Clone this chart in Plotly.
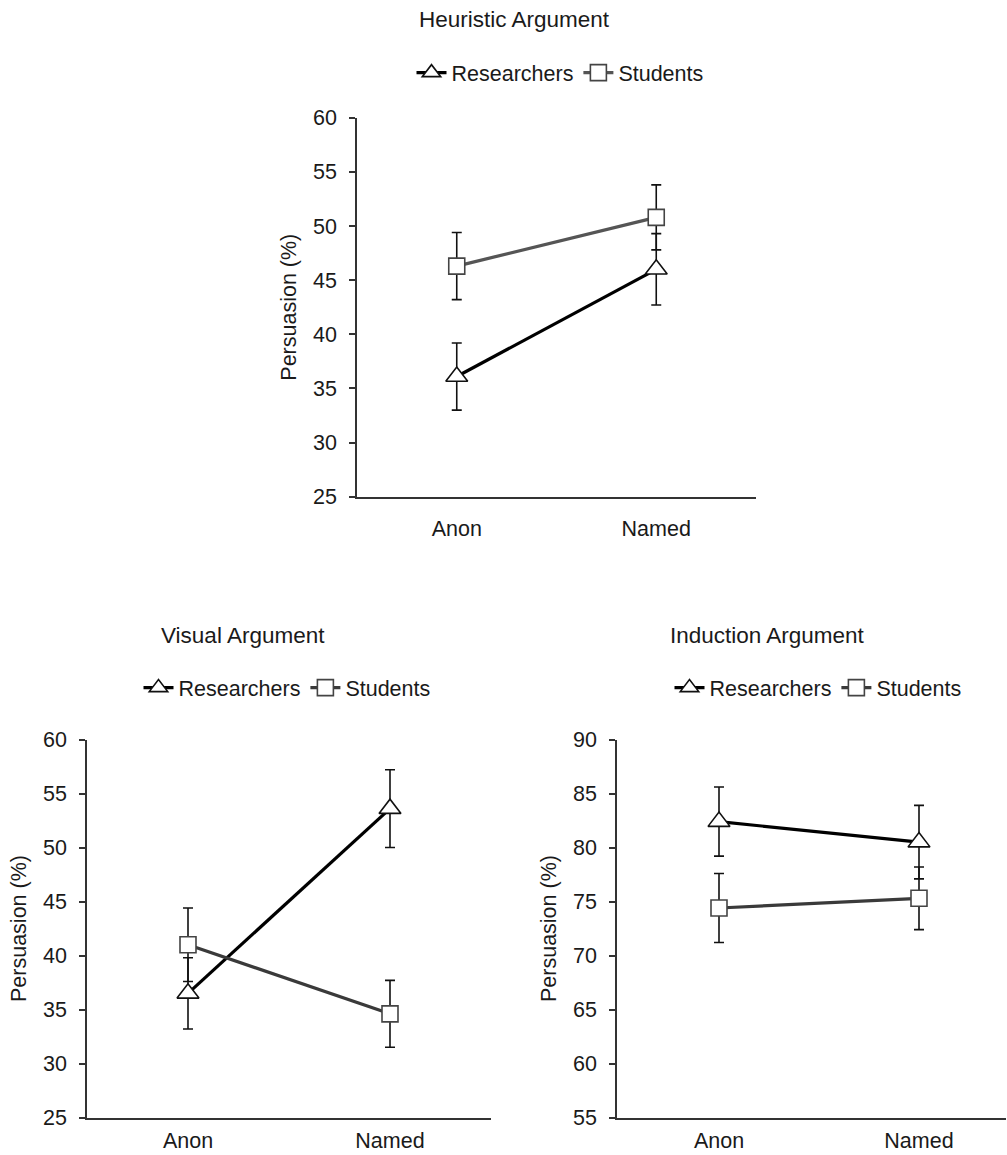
import plotly.graph_objects as go

W, H = 1007, 1155

categories = ["Anon", "Named"]
series_names = ["Researchers", "Students"]

heur_res = [36.1, 46.0]
heur_res_err = [3.1, 3.3]
heur_stu = [46.3, 50.8]
heur_stu_err = [3.1, 3.0]

vis_res = [36.5, 53.6]
vis_res_err = [3.3, 3.6]
vis_stu = [41.0, 34.6]
vis_stu_err = [3.4, 3.1]

ind_res = [82.4, 80.5]
ind_res_err = [3.2, 3.4]
ind_stu = [74.4, 75.3]
ind_stu_err = [3.2, 2.9]

titles = ["Heuristic Argument", "Visual Argument", "Induction Argument"]
y_ranges = [[25, 60], [25, 60], [55, 90]]
y_title = "Persuasion (%)"

FONT = "Liberation Sans, Arial, Helvetica, sans-serif"
TXT = "#1a1a1a"
FS = 21.5

fig = go.Figure()

panels = [
    dict(res=heur_res, rerr=heur_res_err, stu=heur_stu, serr=heur_stu_err,
         xa="x", ya="y", legend="legend", stu_color="#555555"),
    dict(res=vis_res, rerr=vis_res_err, stu=vis_stu, serr=vis_stu_err,
         xa="x2", ya="y2", legend="legend2", stu_color="#3a3a3a"),
    dict(res=ind_res, rerr=ind_res_err, stu=ind_stu, serr=ind_stu_err,
         xa="x3", ya="y3", legend="legend3", stu_color="#3a3a3a"),
]

for p in panels:
    fig.add_trace(go.Scatter(
        x=categories, y=p["res"], name=series_names[0], mode="lines+markers",
        xaxis=p["xa"], yaxis=p["ya"], legend=p["legend"],
        line=dict(color="#000000", width=3.2),
        marker=dict(symbol="triangle-up", size=19, color="white",
                    line=dict(color="#111111", width=1.6)),
        error_y=dict(type="data", array=p["rerr"], visible=True,
                     color="#111111", thickness=1.6, width=5),
    ))
    fig.add_trace(go.Scatter(
        x=categories, y=p["stu"], name=series_names[1], mode="lines+markers",
        xaxis=p["xa"], yaxis=p["ya"], legend=p["legend"],
        line=dict(color=p["stu_color"], width=3.2),
        marker=dict(symbol="square", size=16, color="white",
                    line=dict(color="#444444", width=1.6)),
        error_y=dict(type="data", array=p["serr"], visible=True,
                     color="#111111", thickness=1.6, width=5),
    ))

def px_x(a, b):
    return [a / W, b / W]

def px_y(top, bottom):
    return [1 - bottom / H, 1 - top / H]

domains = [
    (px_x(357, 756), px_y(109, 496), [-0.5, 1.5], 12),
    (px_x(87, 491), px_y(744, 1130), [-0.5, 1.5], 3),
    (px_x(617, 1006), px_y(744, 1130), [-0.51, 1.435], 3),
]

layout = dict(
    width=W, height=H,
    paper_bgcolor="white", plot_bgcolor="white",
    margin=dict(l=0, r=0, t=0, b=0),
    font=dict(family=FONT, size=FS, color=TXT),
    showlegend=True,
)

for i, (xd, yd, xr, stand) in enumerate(domains):
    sfx = "" if i == 0 else str(i + 1)
    layout["xaxis" + sfx] = dict(
        domain=xd, anchor="y" + sfx, range=xr, type="category",
        showline=True, linecolor="#333333", linewidth=1.6,
        showgrid=False, zeroline=False, ticks="",
        tickfont=dict(family=FONT, size=FS, color=TXT),
        ticklabelstandoff=stand, fixedrange=True,
    )
    layout["yaxis" + sfx] = dict(
        domain=yd, anchor="x" + sfx, range=y_ranges[i],
        tickmode="linear", tick0=y_ranges[i][0], dtick=5,
        showline=True, linecolor="#333333", linewidth=1.6,
        showgrid=False, zeroline=False,
        ticks="outside", ticklen=6, tickwidth=1.6, tickcolor="#333333",
        tickfont=dict(family=FONT, size=FS, color=TXT),
        ticklabelstandoff=8,
        title=dict(text=y_title, font=dict(family=FONT, size=FS, color=TXT), standoff=10),
        fixedrange=True,
    )

legend_pos = [(560, 63), (287, 691), (818, 691)]
for i, (lx, ly) in enumerate(legend_pos):
    key = "legend" if i == 0 else "legend" + str(i + 1)
    layout[key] = dict(
        orientation="h", x=lx / W, y=1 - ly / H,
        xanchor="center", yanchor="middle",
        font=dict(family=FONT, size=FS, color=TXT),
        bgcolor="rgba(0,0,0,0)", itemwidth=30,
        tracegroupgap=0,
    )

fig.update_layout(**layout)

title_pos = [(514, 9), (243, 638), (767, 638)]
for t, (tx, ty) in zip(titles, title_pos):
    fig.add_annotation(
        text=t, x=tx / W, y=1 - ty / H, xref="paper", yref="paper",
        xanchor="center", yanchor="middle", showarrow=False,
        font=dict(family=FONT, size=22.5, color=TXT),
    )

fig.write_html(
    "out.html",
    config={"displayModeBar": False},
    post_script="document.body.style.margin='0px';document.body.style.overflow='hidden';",
)
